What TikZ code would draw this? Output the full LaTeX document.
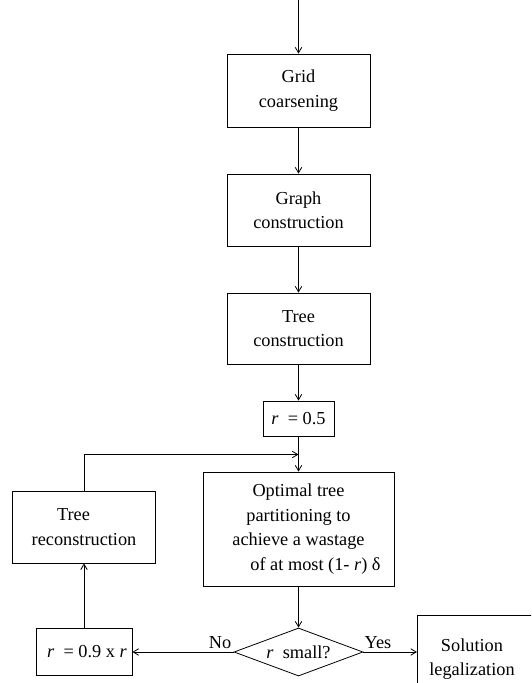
\documentclass[tikz,border=0pt]{standalone}
\usepackage{fontspec}
\setmainfont{Liberation Serif}
\usetikzlibrary{arrows.meta,shapes.geometric}
\begin{document}
\begin{tikzpicture}[x=1pt,y=-1pt,line width=0.8pt,
  txt/.style={inner sep=0pt,align=center,font=\fontsize{18.3}{24.5}\selectfont},
  box/.style={txt,draw,rectangle},
  arr/.style={-{Straight Barb[length=5.5pt,width=6.5pt]}}]
\useasboundingbox (0,0) rectangle (531,683);
\clip (0,0) rectangle (531,683);
\node[box,minimum width=143pt,minimum height=73pt] (grid) at (298.5,90.5) {Grid\\coarsening};
\node[box,minimum width=143pt,minimum height=72pt] (graph) at (298.5,210) {Graph\\construction};
\node[box,minimum width=143pt,minimum height=71pt] (treec) at (298.5,328.5) {Tree\\construction};
\node[box,minimum width=71pt,minimum height=35pt] (r05) at (298.5,418.5) {\textit{r}\ \ = 0.5};
\node[box,minimum width=191pt,minimum height=114pt] (opt) at (298.5,529) {Optimal tree\\partitioning to\\achieve a wastage\\\hspace*{34pt}of at most (1- \textit{r}) δ};
\node[box,minimum width=143.5pt,minimum height=72pt] (treer) at (84,527) {Tree\hspace*{21pt}\\reconstruction};
\node[box,minimum width=96pt,minimum height=47pt] (r09) at (84,651.5) {\hspace*{6pt}\textit{r}\ \ = 0.9 x \textit{r}};
\node[txt,draw,diamond,minimum width=129pt,minimum height=48pt,aspect=2.7] (dia) at (298.5,652) {\textit{r}\ \ small?};
\node[txt] (no) at (220,643) {No};
\node[txt] (yes) at (378,643) {Yes};
\node[txt] (sol) at (472,659) {Solution\\legalization};
\coordinate (solc) at (417,615);
\coordinate (top) at (298.5,0);
\coordinate (junc) at (298.5,454.5);
\draw (solc |- 0,700) -- (solc) -- (560,615);
\draw[arr] (top) -- (grid.north);
\draw[arr] (grid.south) -- (graph.north);
\draw[arr] (graph.south) -- (treec.north);
\draw[arr] (treec.south) -- (r05.north);
\draw[arr] (r05.south) -- (opt.north);
\draw[arr] (treer.north) |- (junc);
\draw[arr] (opt.south) -- (dia.north);
\draw[arr] (dia.west) -- (dia.west -| r09.east);
\draw[arr] (r09.north) -- (treer.south);
\draw[arr] (dia.east) -- (dia.east -| solc);
\end{tikzpicture}
\end{document}
